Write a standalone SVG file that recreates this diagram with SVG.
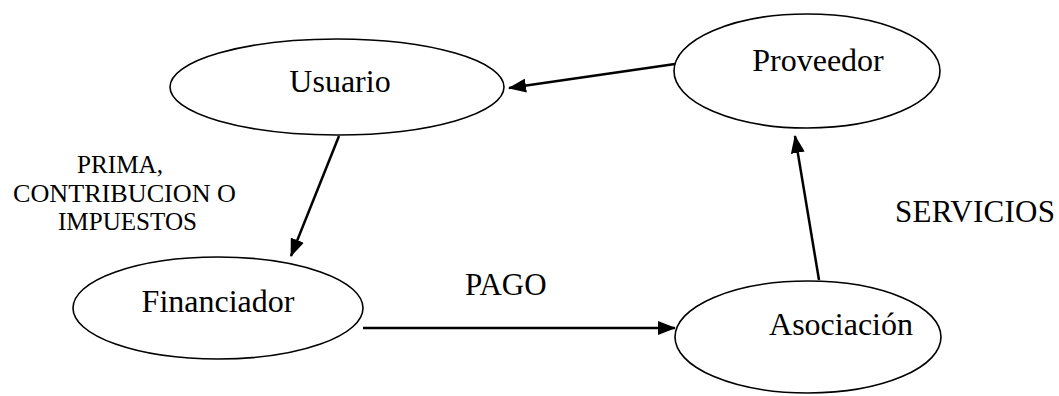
<svg xmlns="http://www.w3.org/2000/svg" width="1059" height="396" viewBox="0 0 1059 396">
<style>
.node ellipse{fill:#fff;stroke:#000;stroke-width:1.6}
text{font-family:"Liberation Serif","Times New Roman",serif;fill:#000}
.lbl{font-size:32px;text-anchor:middle}
.edge{font-size:31px}
.small{font-size:26px}
.conn line{stroke:#000;stroke-width:2.5}
</style>
<defs>
<marker id="ah" markerWidth="18" markerHeight="14" refX="17" refY="7" orient="auto" markerUnits="userSpaceOnUse">
<path d="M0,0 L18,7 L0,14 Z" fill="#000"/>
</marker>
</defs>
<rect width="1059" height="396" fill="#fff"/>
<g class="conn">
<line x1="675" y1="64" x2="509" y2="88" marker-end="url(#ah)"/>
<line x1="339" y1="136" x2="291" y2="256" marker-end="url(#ah)"/>
<line x1="363" y1="328" x2="675" y2="328" marker-end="url(#ah)"/>
<line x1="819" y1="280" x2="795" y2="136" marker-end="url(#ah)"/>
</g>
<g id="usuario" class="node">
<ellipse cx="337" cy="87" rx="167" ry="48"/>
<text class="lbl" x="340" y="92">Usuario</text>
</g>
<g id="proveedor" class="node">
<ellipse cx="807" cy="71" rx="133" ry="57"/>
<text class="lbl" x="818" y="71">Proveedor</text>
</g>
<g id="financiador" class="node">
<ellipse cx="218" cy="308" rx="145" ry="51"/>
<text class="lbl" x="218" y="312">Financiador</text>
</g>
<g id="asociacion" class="node">
<ellipse cx="808" cy="337" rx="133" ry="56"/>
<text class="lbl" x="841" y="335">Asociación</text>
</g>
<g id="labels">
<text class="small" x="77" y="173" textLength="86" lengthAdjust="spacingAndGlyphs">PRIMA,</text>
<text class="small" x="13" y="202" textLength="223" lengthAdjust="spacingAndGlyphs">CONTRIBUCION O</text>
<text class="small" x="58" y="230" textLength="139" lengthAdjust="spacingAndGlyphs">IMPUESTOS</text>
<text class="edge" x="465" y="295">PAGO</text>
<text class="edge" x="895" y="222" textLength="160">SERVICIOS</text>
</g>
</svg>
